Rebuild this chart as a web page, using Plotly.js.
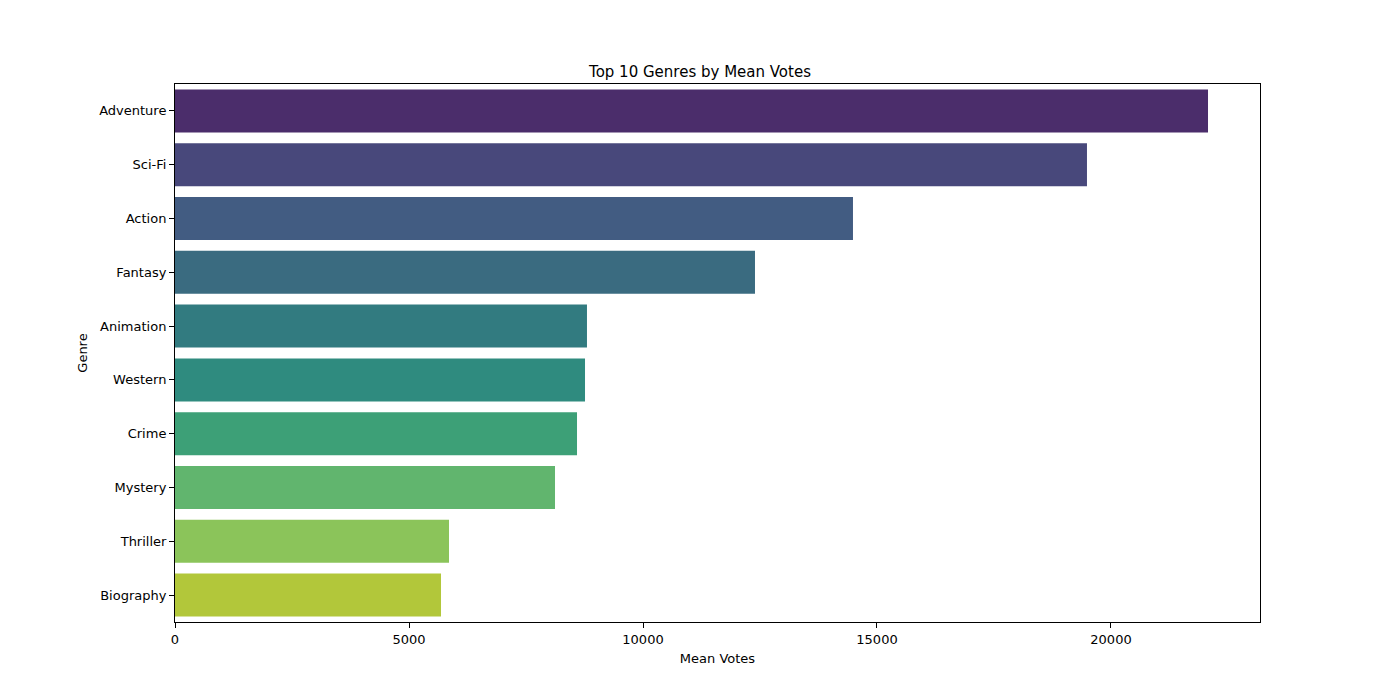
<!DOCTYPE html>
<html>
<head>
<script src="https://cdn.plot.ly/plotly-3.0.1.min.js"></script>
<style>body{margin:0}</style>
</head>
<body>
<div id="plot" style="width:1400px;height:700px"></div>
<script>
const genres = ["Adventure", "Sci-Fi", "Action", "Fantasy", "Animation", "Western", "Crime", "Mystery", "Thriller", "Biography"];
const meanVotes = [22073, 19487, 14487, 12393, 8803, 8761, 8590, 8120, 5855, 5684];
const barColors = ["#4b2d6b", "#48487b", "#425c82", "#3a6b80", "#327b80", "#2f8b7f", "#3da077", "#61b56e", "#8bc45a", "#b2c73a"];
const xTicks = [0, 5000, 10000, 15000, 20000];

const font = { family: "DejaVu Sans, sans-serif", size: 13, color: "#000" };

Plotly.newPlot("plot", [{
    type: "bar",
    orientation: "h",
    x: meanVotes,
    y: genres,
    marker: { color: barColors },
    hoverinfo: "x+y"
}], {
    width: 1400,
    height: 700,
    font: font,
    margin: { l: 175, r: 140, t: 84, b: 78 },
    bargap: 0.2,
    showlegend: false,
    plot_bgcolor: "#fff",
    paper_bgcolor: "#fff",
    title: { text: "Top 10 Genres by Mean Votes", font: { size: 15 }, x: 0.5, xanchor: "center", y: 0.898, yanchor: "middle" },
    xaxis: {
        title: { text: "Mean Votes", font: { size: 13 }, standoff: 8 },
        range: [0, 23184],
        tickvals: xTicks,
        ticktext: xTicks.map(String),
        ticks: "outside", ticklen: 5, tickcolor: "#000",
        showgrid: false, zeroline: false,
        showline: true, linecolor: "#000", mirror: true
    },
    yaxis: {
        title: { text: "Genre", font: { size: 13 }, standoff: 8 },
        autorange: "reversed",
        ticks: "outside", ticklen: 5, tickcolor: "#000",
        showgrid: false,
        showline: true, linecolor: "#000", mirror: true
    }
}, { displayModeBar: false });
</script>
</body>
</html>
